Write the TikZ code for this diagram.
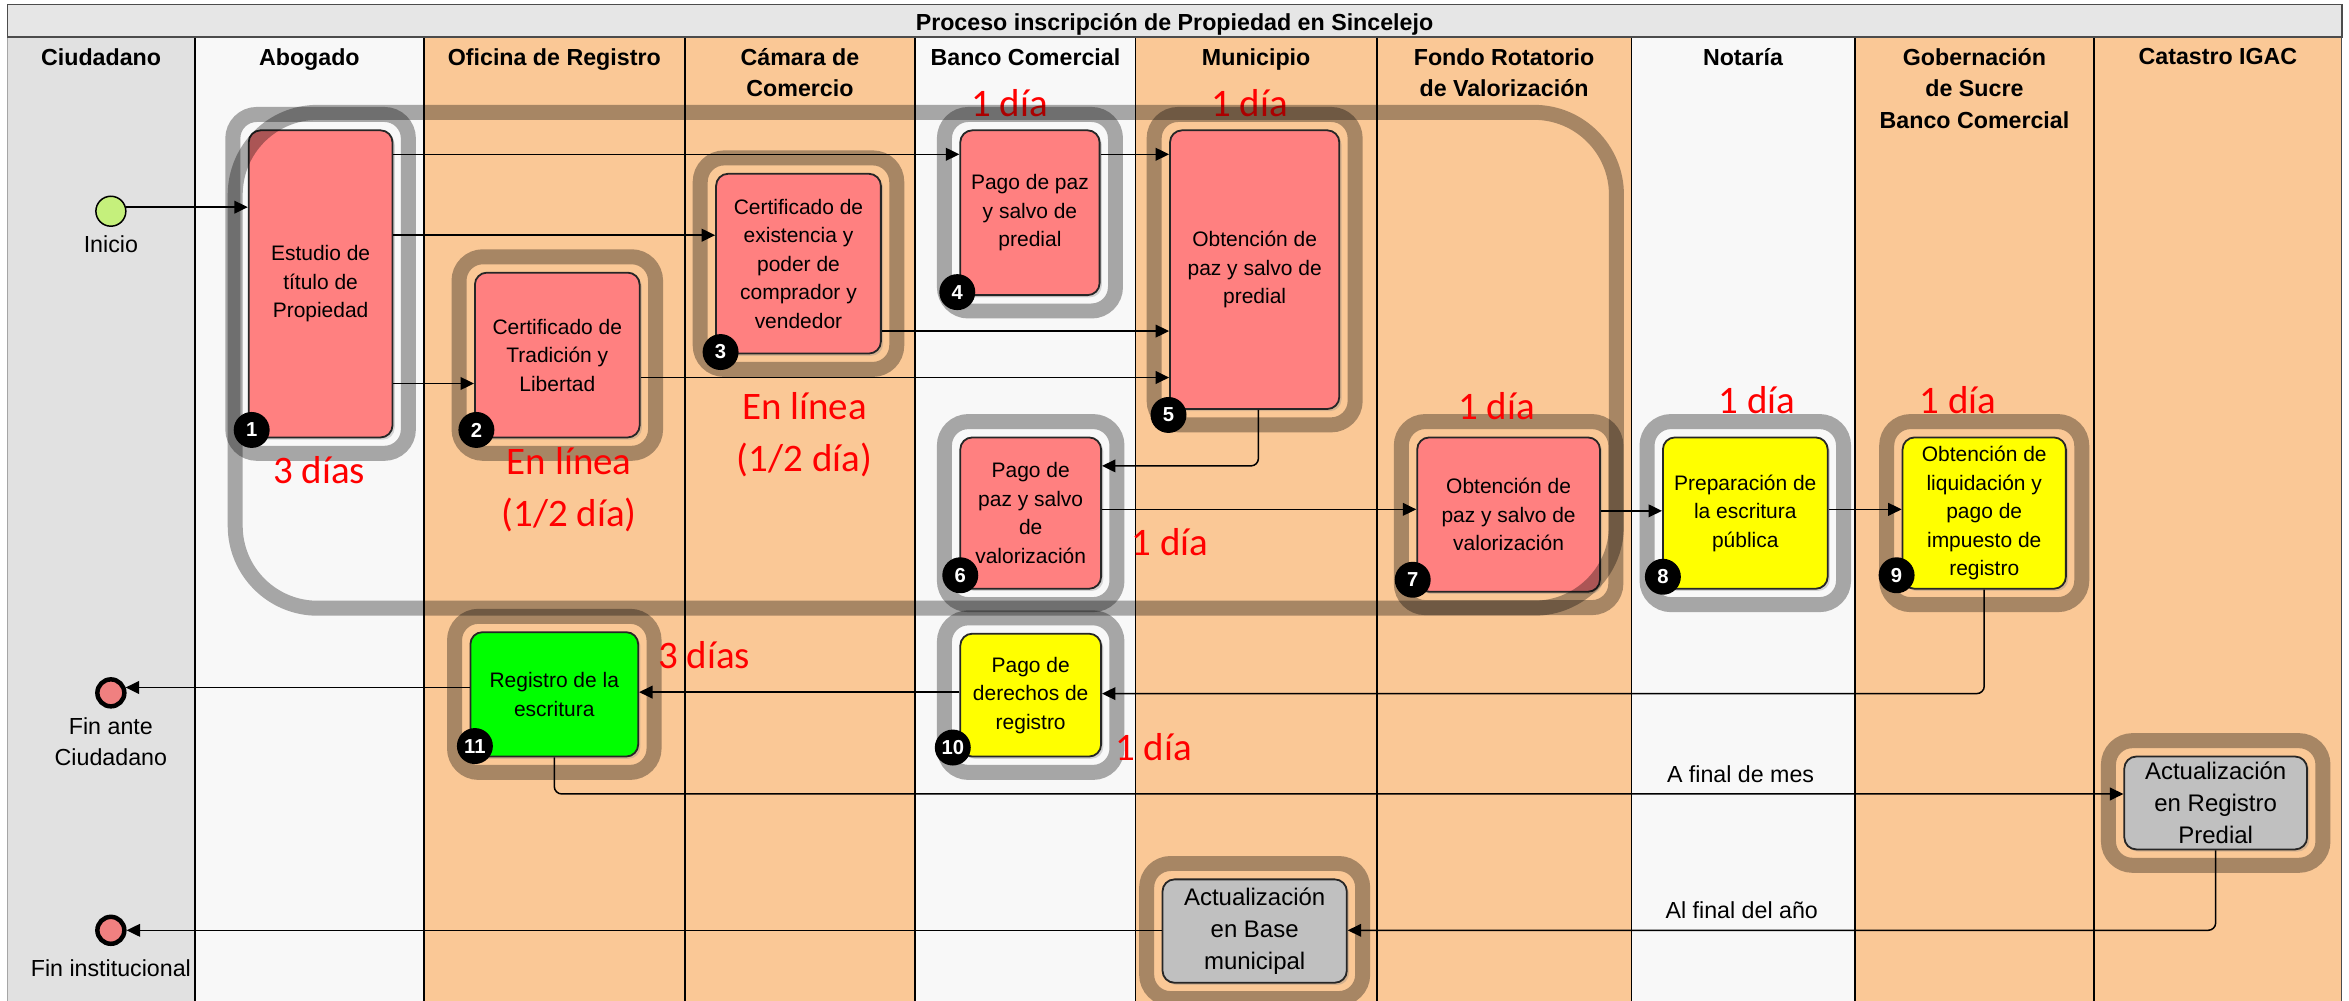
\documentclass[tikz,border=0pt]{standalone}
\usepackage{fontspec}
\setmainfont{Liberation Sans}
\newfontfamily\calib{Carlito}
\usetikzlibrary{arrows.meta,fit,shadows,calc}
\definecolor{lanegray}{HTML}{E1E1E1}
\definecolor{lanewhite}{HTML}{F8F8F8}
\definecolor{laneorange}{HTML}{FAC896}
\definecolor{procred}{HTML}{FF8080}
\definecolor{procyellow}{HTML}{FFFF00}
\definecolor{procgreen}{HTML}{00FF00}
\definecolor{procgray}{HTML}{C0C0C0}
\definecolor{startgreen}{HTML}{C5F07C}
\definecolor{endred}{HTML}{F08080}
\definecolor{titlegray}{HTML}{E6E6E6}
\begin{document}
\begin{tikzpicture}[x=1pt,y=-1pt,
  lanediv/.style={draw=black, line width=1.2pt},
  hdr/.style={font=\bfseries\fontsize{15.5}{21}\selectfont, align=center, anchor=north, inner sep=0pt},
  proc/.style={draw=black!85, line width=1.2pt, rounded corners=8pt, align=center, inner sep=2pt,
    font=\fontsize{14}{19}\selectfont,
    drop shadow={shadow xshift=1.5pt,shadow yshift=-1.5pt,opacity=0.3}},
  procbig/.style={proc, font=\fontsize{16}{21.5}\selectfont},
  pframe/.style={draw=black, draw opacity=0.33, line width=10pt, rounded corners=16pt, inner sep=10pt},
  bigframe/.style={draw=black, draw opacity=0.33, line width=10pt, rounded corners=55pt},
  badge/.style={circle, fill=black, text=white, font=\bfseries\fontsize{13.5}{14}\selectfont, minimum size=24pt, inner sep=0pt},
  dur/.style={text=red, font=\calib\fontsize{26}{34.5}\selectfont, align=center, inner sep=0pt},
  evlabel/.style={font=\fontsize{15.5}{21}\selectfont, align=center, inner sep=0pt},
  startev/.style={circle, draw=black, line width=1pt, fill=startgreen, minimum size=20pt, inner sep=0pt},
  endev/.style={circle, draw=black, line width=3pt, fill=endred, minimum size=18pt, inner sep=0pt},
  arr/.style={draw=black, line width=1pt, -{Triangle[length=9pt,width=8.5pt]}, rounded corners=5pt},
  flowlabel/.style={font=\fontsize{15.5}{18}\selectfont, inner sep=1pt, above=6pt}
]
\useasboundingbox (0,0) rectangle (1568,668);
\fill[white] (0,0) rectangle (1568,668);
% lanes
\fill[lanegray] (5,25) rectangle (130,668);
\fill[lanewhite] (130,25) rectangle (283,668);
\fill[laneorange] (283,25) rectangle (611,668);
\fill[lanewhite] (611,25) rectangle (758,668);
\fill[laneorange] (758,25) rectangle (1089,668);
\fill[lanewhite] (1089,25) rectangle (1238,668);
\fill[laneorange] (1238,25) rectangle (1563,668);
\foreach \x in {130,283,457,611,758,919,1089,1238,1398} \draw[lanediv] (\x,25) -- (\x,668);
\draw[black!35, line width=0.8pt] (5,25) -- (5,668);
\draw[draw=black!70, line width=1.2pt] (1563,25) -- (1563,668);
\draw[fill=titlegray, draw=black!70, line width=1.3pt] (5,3) rectangle (1563,25);
\node[font=\bfseries\fontsize{15.5}{18}\selectfont, anchor=base, inner sep=0pt] (title) at (784,20.5) {Proceso inscripción de Propiedad en Sincelejo};
% headers
\node[hdr] (hCiu) at (67.5,32) {Ciudadano};
\node[hdr] (hAbo) at (206.5,32) {Abogado};
\node[hdr] (hOfi) at (370,32) {Oficina de Registro};
\node[hdr] (hCam) at (534,32) {Cámara de\\Comercio};
\node[hdr] (hBan) at (684.5,32) {Banco Comercial};
\node[hdr] (hMun) at (838.5,32) {Municipio};
\node[hdr] (hFon) at (1004,32) {Fondo Rotatorio\\de Valorización};
\node[hdr] (hNot) at (1163.5,32) {Notaría};
\node[hdr] (hGob) at (1318,32) {Gobernación\\de Sucre\\Banco Comercial};
\node[hdr] (hCat) at (1480.5,32) {Catastro IGAC};
% events
\node[startev] (inicio) at (74,141) {};
\node[evlabel] (linicio) at (74,163) {Inicio};
\node[endev] (finA) at (74,462.5) {};
\node[evlabel] (lfinA) at (74,495) {Fin ante\\Ciudadano};
\node[endev] (finI) at (74,621) {};
\node[evlabel] (lfinI) at (74,646) {Fin institucional};
% process nodes
\node[proc, fill=procred, minimum width=96pt, minimum height=205pt] (n1) at (214,189.5) {Estudio de\\título de\\Propiedad};
\node[proc, fill=procred, minimum width=110pt, minimum height=110pt] (n2) at (372,237) {Certificado de\\Tradición y\\Libertad};
\node[proc, fill=procred, minimum width=110pt, minimum height=120pt] (n3) at (533,176) {Certificado de\\existencia y\\poder de\\comprador y\\vendedor};
\node[proc, fill=procred, minimum width=93pt, minimum height=110pt] (n4) at (687.5,142) {Pago de paz\\y salvo de\\predial};
\node[proc, fill=procred, minimum width=113pt, minimum height=186pt] (n5) at (837.5,180) {Obtención de\\paz y salvo de\\predial};
\node[proc, fill=procred, minimum width=94pt, minimum height=101pt] (n6) at (688,342.5) {Pago de\\paz y salvo\\de\\valorización};
\node[proc, fill=procred, minimum width=122pt, minimum height=103pt] (n7) at (1007,343.5) {Obtención de\\paz y salvo de\\valorización};
\node[proc, fill=procyellow, minimum width=110pt, minimum height=101pt] (n8) at (1165,342.5) {Preparación de\\la escritura\\pública};
\node[proc, fill=procyellow, minimum width=109pt, minimum height=101pt] (n9) at (1324.5,342.5) {Obtención de\\liquidación y\\pago de\\impuesto de\\registro};
\node[proc, fill=procyellow, minimum width=94pt, minimum height=82pt] (n10) at (688,464) {Pago de\\derechos de\\registro};
\node[proc, fill=procgreen, minimum width=112pt, minimum height=83pt] (n11) at (370,463.5) {Registro de la\\escritura};
\node[procbig, fill=procgray, minimum width=122pt, minimum height=62pt] (n12) at (1479,536) {Actualización\\en Registro\\Predial};
\node[procbig, fill=procgray, minimum width=123pt, minimum height=69pt] (n13) at (837.5,621.5) {Actualización\\en Base\\municipal};
% connectors
\draw[arr] (inicio.15) -- (n1.west |- inicio.15);
\draw[arr] (n1.east |- 0,103) -- (n4.west |- 0,103);
\draw[arr] (n4.east |- 0,103) -- (n5.west |- 0,103);
\draw[arr] (n1.east |- 0,157) -- (n3.west |- 0,157);
\draw[arr] (n1.east |- 0,256) -- (n2.west |- 0,256);
\draw[arr] (n3.east |- 0,221) -- (n5.west |- 0,221);
\draw[arr] (n2.east |- 0,252) -- (n5.west |- 0,252);
\draw[arr] (n5.south -| 840,0) |- (n6.east |- 0,311);
\draw[arr] (n6.east |- 0,340) -- (n7.west |- 0,340);
\draw[arr] (n7.east |- 0,341) -- (n8.west |- 0,341);
\draw[arr] (n8.east |- 0,340) -- (n9.west |- 0,340);
\draw[arr] (n9.south) |- (n10.east |- 0,463);
\draw[arr] (n10.west |- 0,462) -- (n11.east |- 0,462);
\draw[arr] (n11.west |- finA.20) -- (finA.20);
\draw[arr] (n11.south) |- node[flowlabel, pos=0.878] (lmes) {A final de mes} (n12.west |- 0,530);
\draw[arr] (n12.south) |- node[flowlabel, pos=0.773] (lano) {Al final del año} (n13.east |- 0,621);
\draw[arr] (n13.west |- finI.east) -- (finI.east);
% frames around activities
\node[pframe, fit=(n1)] (f1) {};
\node[pframe, fit=(n2)] (f2) {};
\node[pframe, fit=(n3)] (f3) {};
\node[pframe, fit=(n4)] (f4) {};
\node[pframe, fit=(n5)] (f5) {};
\node[pframe, fit=(n6)] (f6) {};
\node[pframe, fit=(n7)] (f7) {};
\node[pframe, fit=(n8)] (f8) {};
\node[pframe, fit=(n9)] (f9) {};
\node[pframe, fit=(n10)] (f10) {};
\node[pframe, fit=(n11)] (f11) {};
\node[pframe, fit=(n12)] (f12) {};
\node[pframe, fit=(n13)] (f13) {};
% durations
\node[dur] (d1) at (213,314) {3 días};
\node[dur] (d2) at (380,327) {En línea\\(1/2 día)};
\node[dur] (d3) at (537,290) {En línea\\(1/2 día)};
\node[dur] (d4) at (674,69) {1 día};
\node[dur] (d5) at (834,69) {1 día};
\node[dur] (d6) at (999,271) {1 día};
\node[dur] (d7) at (1173,267) {1 día};
\node[dur] (d8) at (1307,267) {1 día};
\node[dur] (d9) at (781,362) {1 día};
\node[dur] (d10) at (770,499) {1 día};
\node[dur] (d11) at (470,437) {3 días};
% big group frame
\draw[bigframe] (157,75) rectangle (1079,406);
% badges
\node[badge] (b1) at (168,287) {1};
\node[badge] (b2) at (318,287) {2};
\node[badge] (b3) at (481,235) {3};
\node[badge] (b4) at (639,195) {4};
\node[badge] (b5) at (780,277) {5};
\node[badge] (b6) at (641,384) {6};
\node[badge] (b7) at (943,387) {7};
\node[badge] (b8) at (1110,385) {8};
\node[badge] (b9) at (1266,384) {9};
\node[badge] (b10) at (636,499) {10};
\node[badge] (b11) at (317,498) {11};
\end{tikzpicture}
\end{document}
